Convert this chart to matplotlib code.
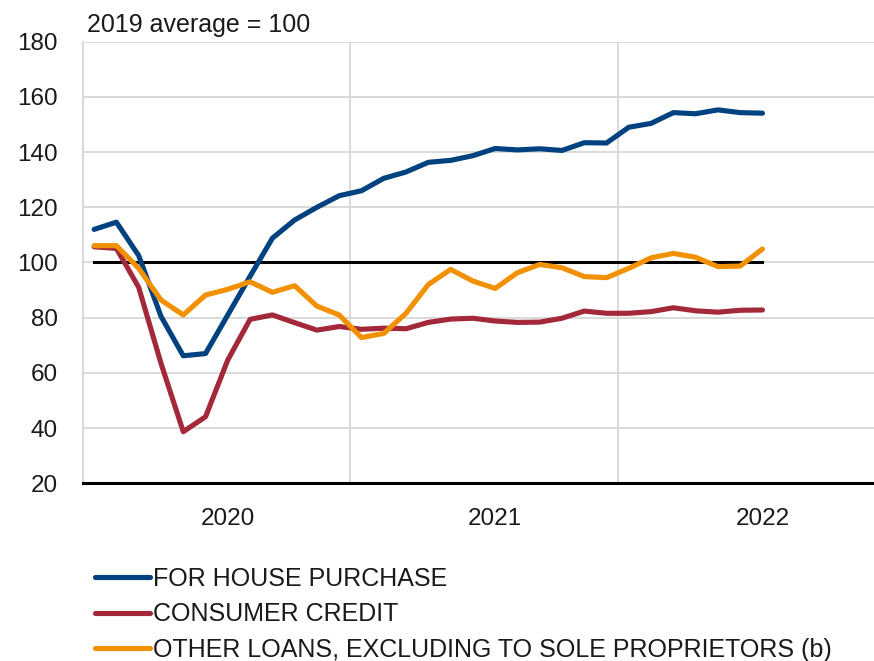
import numpy as np
import matplotlib.pyplot as plt

# monthly index values, Jan 2020 .. Jul 2022 (2019 average = 100)
house = [112, 114.6, 102.5, 80.5, 66.2, 67, 81, 95, 108.8, 115.4, 120, 124.2,
         126, 130.5, 132.8, 136.3, 137, 138.7, 141.3, 140.8, 141.2, 140.6,
         143.4, 143.3, 149, 150.4, 154.3, 153.9, 155.3, 154.3, 154.1]
consumer = [105.7, 105.1, 91, 63.5, 38.7, 44.1, 64.7, 79.4, 81, 78.2, 75.5,
            76.8, 75.8, 76.2, 76, 78.3, 79.5, 79.8, 78.8, 78.3, 78.4, 79.8,
            82.4, 81.6, 81.6, 82.2, 83.6, 82.5, 82, 82.7, 82.8]
other = [106.1, 106.1, 97.9, 86.4, 81, 88.2, 90.3, 93, 89.2, 91.6, 84.2, 81,
         72.8, 74.3, 81.6, 92, 97.5, 93.3, 90.6, 96.3, 99.3, 98.1, 94.9, 94.5,
         97.9, 101.7, 103.3, 101.9, 98.5, 98.7, 104.9]
labels = ['FOR HOUSE PURCHASE', 'CONSUMER CREDIT',
          'OTHER LOANS, EXCLUDING TO SOLE PROPRIETORS (b)']
years = ['2020', '2021', '2022']
base = 100

plt.rcParams['font.family'] = ['Liberation Sans', 'DejaVu Sans']

W, H = 874, 661
fig = plt.figure(figsize=(W / 100, H / 100), dpi=100)
ax = fig.add_axes([83 / W, (H - 483.3) / H, (885 - 83) / W, (483.3 - 41.7) / H])

x = np.arange(len(house))
ax.set_xlim(-0.5, 35.5)
ax.set_ylim(20, 180)

# grid
for yv in range(40, 181, 20):
    ax.axhline(yv, color='#d9d9d9', lw=1.4, zorder=0)
for xv in [11.5, 23.5]:
    ax.axvline(xv, color='#d9d9d9', lw=1.4, zorder=0)

ax.plot(x, [base] * len(x), color='black', lw=2.2, zorder=2)
ax.plot(x, house, color='#00427f', lw=3.7, solid_capstyle='round',
        solid_joinstyle='round', zorder=3)
ax.plot(x, consumer, color='#a3283a', lw=3.7, solid_capstyle='round',
        solid_joinstyle='round', zorder=3)
ax.plot(x, other, color='#f29100', lw=3.7, solid_capstyle='round',
        solid_joinstyle='round', zorder=4)

for s in ['top', 'right']:
    ax.spines[s].set_visible(False)
ax.spines['left'].set_color('#d9d9d9')
ax.spines['left'].set_linewidth(1.4)
ax.spines['bottom'].set_color('black')
ax.spines['bottom'].set_linewidth(2.2)

ax.set_yticks(range(20, 181, 20))
ax.set_xticks([6, 18, 30])
ax.set_xticklabels(years)
ax.tick_params(axis='y', length=0, pad=18, labelsize=17.5, colors='#1a1a1a')
ax.tick_params(axis='x', length=0, pad=18, labelsize=17.5, colors='#1a1a1a')

fig.text(87 / W, 1 - 32 / H, '2019 average = 100', fontsize=18,
         color='#1a1a1a', va='baseline')

handles = ax.get_lines()[-3:]
fig.legend(handles, labels, loc='upper left', bbox_to_anchor=(95 / W, 1 - 567 / H),
           frameon=False, handlelength=2.2, handletextpad=0.12,
           labelspacing=0.45, borderaxespad=0, borderpad=0,
           prop={'size': 18}, labelcolor='#1a1a1a')

fig.savefig('out.png', dpi=100)
